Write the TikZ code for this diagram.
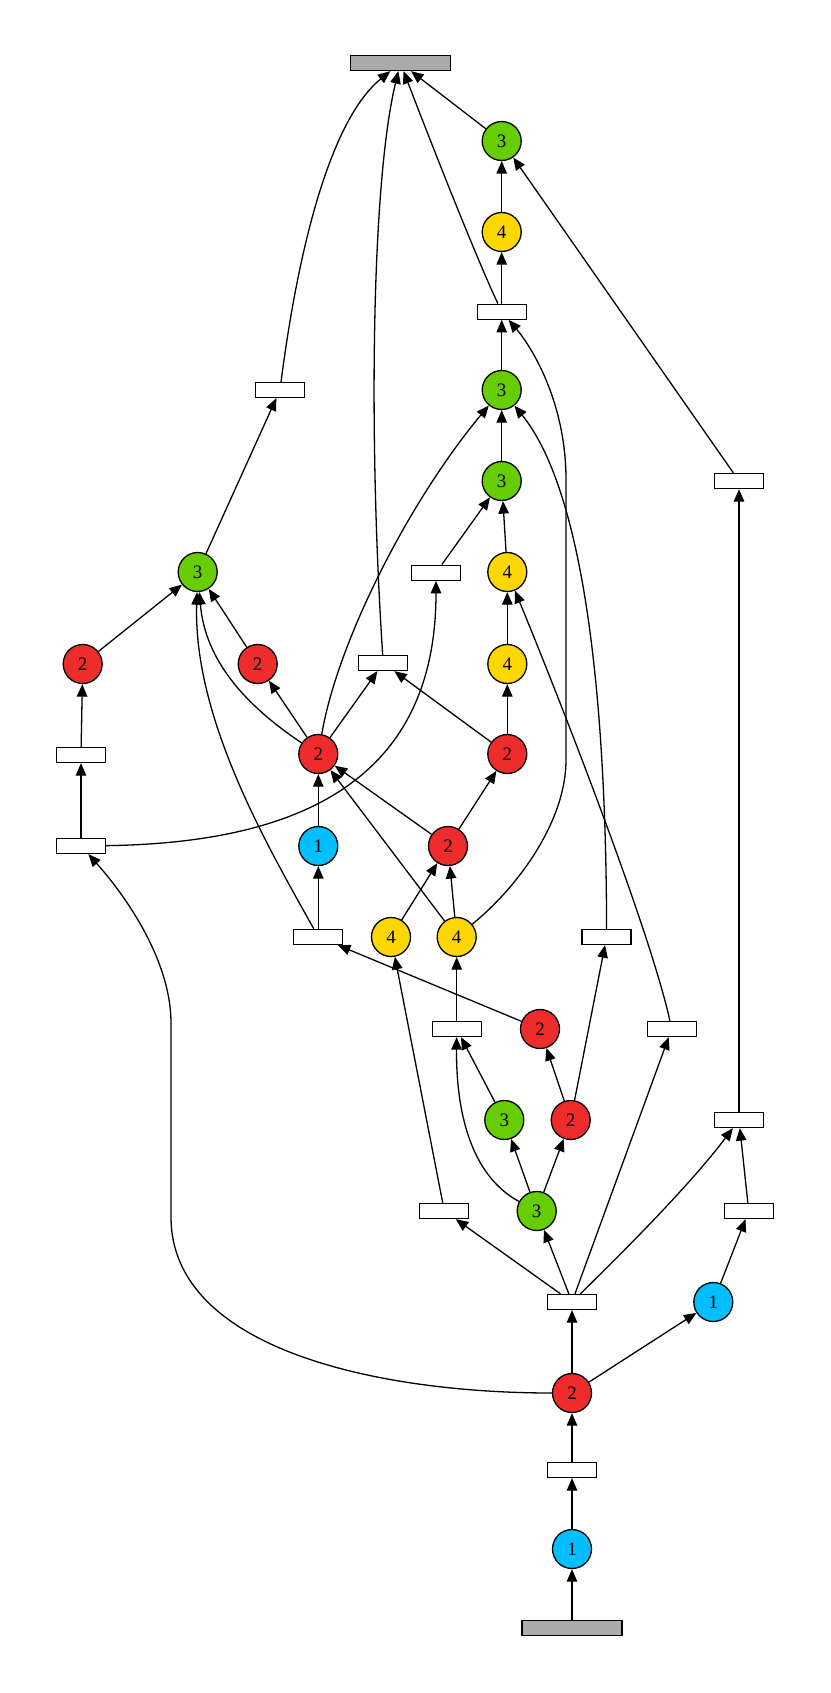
\documentclass[tikz,border=0pt]{standalone}
\usepackage{fontspec}
\setmainfont{Liberation Serif}
\usetikzlibrary{arrows.meta}
\definecolor{tokred}{HTML}{EE2C2C}
\definecolor{tokgreen}{HTML}{66CD00}
\definecolor{tokgold}{HTML}{FFD700}
\definecolor{tokblue}{HTML}{00BFFF}
\definecolor{boxgray}{HTML}{AAAAAA}

\begin{document}
\begin{tikzpicture}[x=1pt, y=-1pt, font={\fontsize{19}{22}\selectfont},
    tok/.style={circle, draw, line width=1.3pt, minimum size=39pt, inner sep=0pt},
    tbox/.style={draw, line width=1.3pt, minimum width=49pt, minimum height=15pt, inner sep=0pt},
    gbox/.style={tbox, fill=boxgray, minimum width=100pt},
    arr/.style={-{Triangle[length=12.5pt, width=10.5pt]}, line width=1.3pt}]
    \useasboundingbox (0,0) rectangle (830,1693);
    \node[gbox] (goal) at (400.4,63) {};
    \node[tok, fill=tokgreen] (gA) at (501.7,141) {3};
    \node[tok, fill=tokgold] (yA) at (501.7,232) {4};
    \node[tbox] (bxA) at (501.7,311.7) {};
    \node[tok, fill=tokgreen] (gB) at (501.7,390) {3};
    \node[tbox] (bxB) at (280,390) {};
    \node[tok, fill=tokgreen] (gC) at (501.7,481) {3};
    \node[tbox] (bxC) at (739,481) {};
    \node[tok, fill=tokgreen] (gD) at (197.7,572) {3};
    \node[tbox] (bxD) at (436,572.7) {};
    \node[tok, fill=tokgold] (yB) at (507.3,572) {4};
    \node[tok, fill=tokred] (rB) at (82.7,664) {2};
    \node[tok, fill=tokred] (rC) at (257.7,664) {2};
    \node[tbox] (bxE) at (383.2,663) {};
    \node[tok, fill=tokgold] (yC) at (507.3,664) {4};
    \node[tbox] (bxF) at (81,755) {};
    \node[tok, fill=tokred] (rD) at (318.3,754) {2};
    \node[tok, fill=tokred] (rA) at (507.3,754) {2};
    \node[tbox] (bxG) at (81,846) {};
    \node[tok, fill=tokblue] (bB) at (318.3,846) {1};
    \node[tok, fill=tokred] (rE) at (448,846) {2};
    \node[tbox] (bxH) at (318.3,937) {};
    \node[tok, fill=tokgold] (yD) at (391,937) {4};
    \node[tok, fill=tokgold] (yE) at (456.7,937) {4};
    \node[tbox] (bxI) at (606.6,937) {};
    \node[tbox] (bxJ) at (456.7,1029) {};
    \node[tok, fill=tokred] (rF) at (540,1029) {2};
    \node[tbox] (bxK) at (671.7,1029) {};
    \node[tok, fill=tokgreen] (gE) at (504.3,1120) {3};
    \node[tok, fill=tokred] (rG) at (570.7,1120) {2};
    \node[tbox] (bxL) at (739,1120) {};
    \node[tbox] (bxM) at (444.3,1211) {};
    \node[tok, fill=tokgreen] (gF) at (536.7,1211) {3};
    \node[tbox] (bxN) at (748.7,1211) {};
    \node[tbox] (bxO) at (572,1302) {};
    \node[tok, fill=tokblue] (bC) at (713.3,1302) {1};
    \node[tok, fill=tokred] (rH) at (572,1393) {2};
    \node[tbox] (bxP) at (572,1470) {};
    \node[tok, fill=tokblue] (bD) at (572,1549) {1};
    \node[gbox] (start) at (572,1628) {};

    \draw[arr] (start) -- (bD);
    \draw[arr] (bD) -- (bxP);
    \draw[arr] (bxP) -- (rH);
    \draw[arr] (rH) -- (bxO);
    \draw[arr] (rH) -- (bC);
    \draw[arr] (rH) .. controls (380,1393) and (171,1350) .. (171,1217)
      -- (171,1023) .. controls (171,960) and (125,895) .. (bxG);
    \draw[arr] (bxO) -- (bxM);
    \draw[arr] (bxO) -- (gF);
    \draw[arr] (bxO) -- (bxK);
    \draw[arr] (bxO) .. controls (625,1250) and (690,1185) .. (bxL);
    \draw[arr] (bC) -- (bxN);
    \draw[arr] (bxN) -- (bxL);
    \draw[arr] (bxL) -- (bxC);
    \draw[arr] (bxC) -- (gA);
    \draw[arr] (gF) -- (gE);
    \draw[arr] (gF) -- (rG);
    \draw[arr] (gF) .. controls (470,1175) and (456,1110) .. (bxJ);
    \draw[arr] (gE) -- (bxJ);
    \draw[arr] (rG) -- (rF);
    \draw[arr] (rG) -- (bxI);
    \draw[arr] (bxJ) -- (yE);
    \draw[arr] (rF) -- (bxH);
    \draw[arr] (bxM) -- (yD);
    \draw[arr] (bxK) .. controls (650,930) and (560,700) .. (yB);
    \draw[arr] (bxI) .. controls (606,650) and (575,480) .. (gB);
    \draw[arr] (yE) -- (rE);
    \draw[arr] (yD) -- (rE);
    \draw[arr] (yE) -- (rD);
    \draw[arr] (yE) .. controls (520,885) and (566,820) .. (566,760)
      -- (566,480) .. controls (566,400) and (530,345) .. (bxA);
    \draw[arr] (rE) -- (rD);
    \draw[arr] (rE) -- (rA);
    \draw[arr] (bxH) -- (bB);
    \draw[arr] (bxH) .. controls (270,850) and (193,720) .. (gD);
    \draw[arr] (bB) -- (rD);
    \draw[arr] (rD) -- (rC);
    \draw[arr] (rD) .. controls (245,705) and (205,660) .. (gD);
    \draw[arr] (rD) -- (bxE);
    \draw[arr] (rD) .. controls (338,640) and (410,500) .. (gB);
    \draw[arr] (rA) -- (bxE);
    \draw[arr] (rA) -- (yC);
    \draw[arr] (yC) -- (yB);
    \draw[arr] (yB) -- (gC);
    \draw[arr] (bxD) -- (gC);
    \draw[arr] (bxG) .. controls (300,843) and (436,780) .. (bxD);
    \draw[arr] (bxG) -- (bxF);
    \draw[arr] (bxF) -- (rB);
    \draw[arr] (rB) -- (gD);
    \draw[arr] (rC) -- (gD);
    \draw[arr] (gD) -- (bxB);
    \draw[arr] (bxB) .. controls (298,250) and (330,120) .. (goal);
    \draw[arr] (bxE) .. controls (368,430) and (372,180) .. (goal);
    \draw[arr] (gC) -- (gB);
    \draw[arr] (gB) -- (bxA);
    \draw[arr] (bxA) -- (yA);
    \draw[arr] (bxA) .. controls (475,255) and (430,140) .. (goal);
    \draw[arr] (yA) -- (gA);
    \draw[arr] (gA) -- (goal);
\end{tikzpicture}
\end{document}
